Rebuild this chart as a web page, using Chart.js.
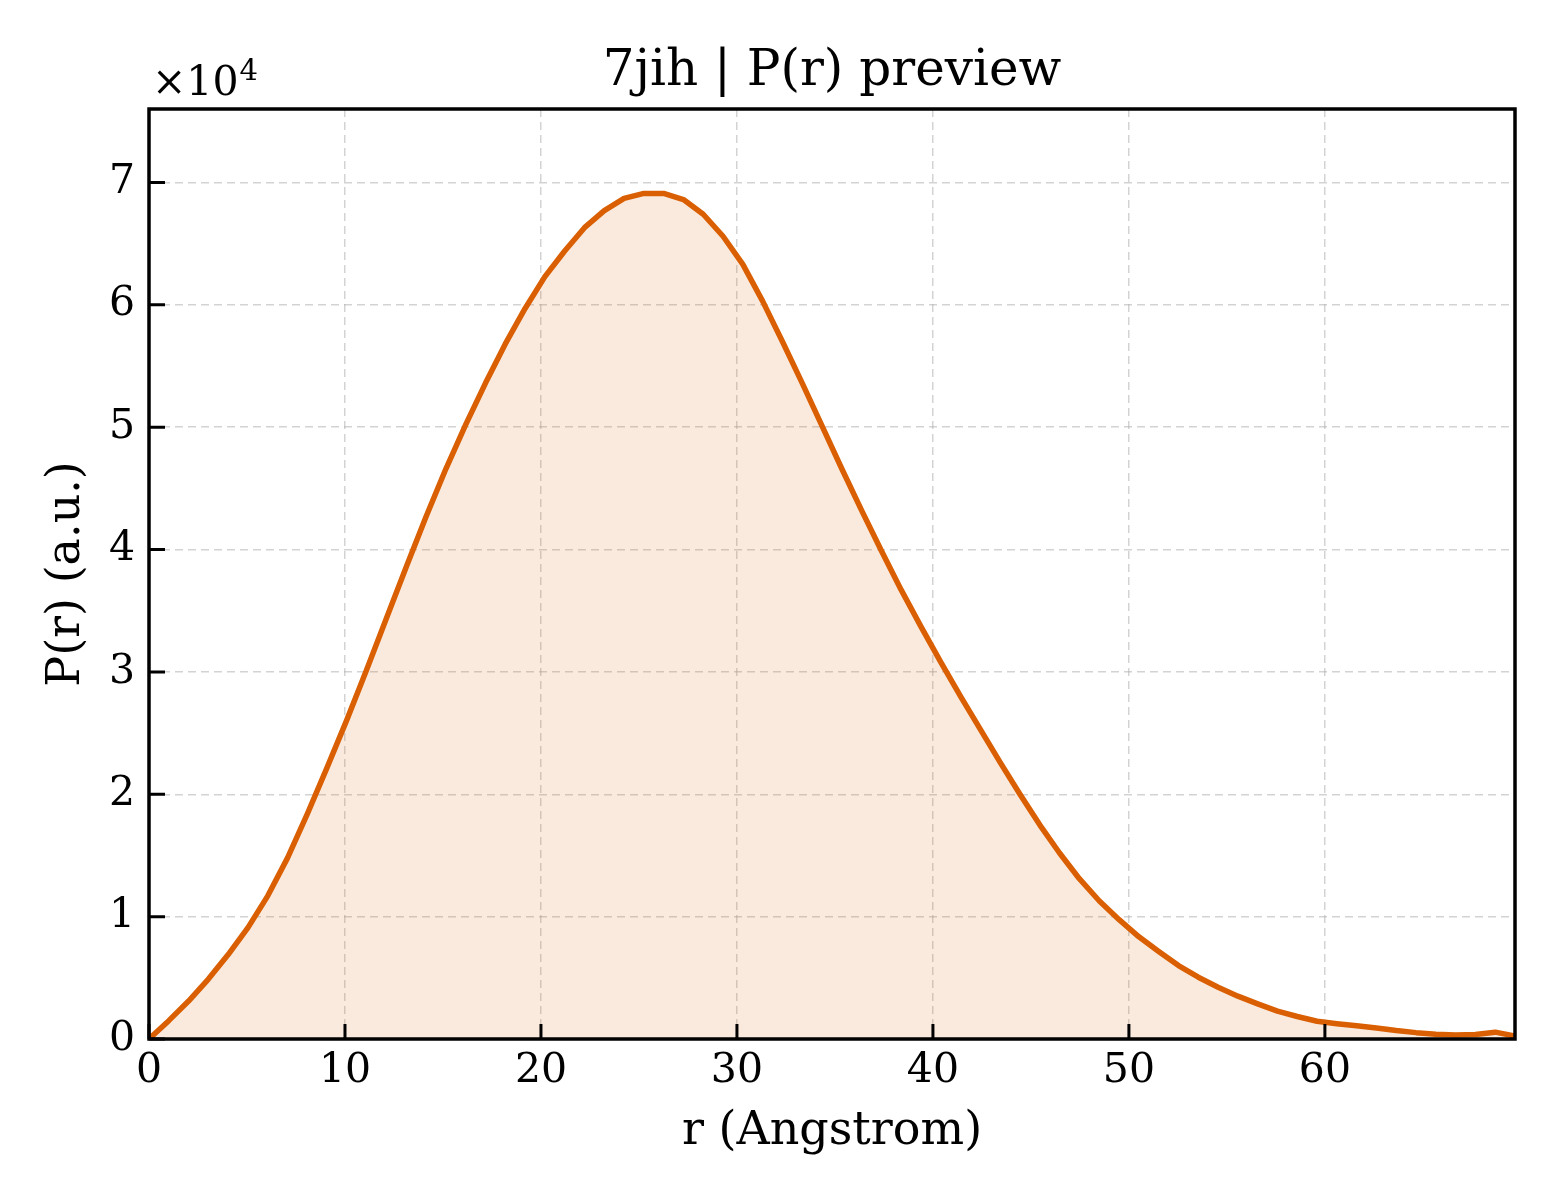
<!DOCTYPE html>
<html>
  <head>
    <title>7jih | P(r) preview</title>
    <script src="https://cdn.jsdelivr.net/npm/chart.js"></script>
    <style>
      html, body { margin: 0; padding: 0; background: #ffffff; }
      #chart-box { width: 1560px; height: 1200px; }
    </style>
  </head>
  <body>
    <div id="chart-box">
      <canvas id="prChart" width="1560" height="1200"></canvas>
    </div>
    <script>
      // r grid (Angstrom) and P(r) values read from the preview
      const rValues = [
        0, 1.01, 2.02, 3.03, 4.04, 5.05, 6.06, 7.07, 8.08, 9.09,
        10.1, 11.11, 12.12, 13.13, 14.14, 15.15, 16.16, 17.17, 18.18, 19.19,
        20.2, 21.21, 22.22, 23.23, 24.24, 25.25, 26.26, 27.27, 28.28, 29.29,
        30.3, 31.31, 32.32, 33.33, 34.34, 35.35, 36.36, 37.37, 38.38, 39.39,
        40.4, 41.41, 42.42, 43.43, 44.44, 45.45, 46.46, 47.47, 48.48, 49.5,
        50.51, 51.52, 52.53, 53.54, 54.55, 55.56, 56.57, 57.58, 58.59, 59.6,
        60.61, 61.62, 62.63, 63.64, 64.65, 65.66, 66.67, 67.68, 68.69, 69.7
      ];
      const prValues = [
        0, 1500, 3100, 4900, 6900, 9100, 11700, 14800, 18400, 22200,
        26100, 30200, 34400, 38600, 42700, 46600, 50200, 53600, 56800, 59700,
        62300, 64400, 66300, 67700, 68700, 69100, 69100, 68600, 67400, 65600,
        63300, 60300, 57000, 53600, 50100, 46600, 43200, 39900, 36700, 33700,
        30800, 28000, 25300, 22600, 20000, 17500, 15200, 13100, 11300, 9750,
        8350, 7150, 6000, 5050, 4230, 3500, 2870, 2280, 1840, 1450,
        1250, 1080, 900, 690, 520, 390, 330, 360, 560, 250
      ];
      const xTickValues = [0, 10, 20, 30, 40, 50, 60];
      const yTickValues = [0, 10000, 20000, 30000, 40000, 50000, 60000, 70000];
      const xMax = 69.7;
      const yMax = 76000;

      const serif = "'DejaVu Serif', 'Liberation Serif', serif";
      const lineColor = "#d95f02";
      const gridColor = "rgba(175, 175, 175, 0.55)";

      // title over the plot, frame, inward ticks and the x10^4 offset label
      const framePlugin = {
        id: "frame",
        afterDraw(chart) {
          const { ctx, chartArea: a, scales } = chart;
          ctx.save();
          ctx.fillStyle = "#000000";
          ctx.font = "50px " + serif;
          ctx.textAlign = "center";
          ctx.textBaseline = "alphabetic";
          ctx.fillText("7jih | P(r) preview", (a.left + a.right) / 2, 85);

          ctx.strokeStyle = "#000000";
          ctx.lineWidth = 3;
          ctx.beginPath();
          xTickValues.forEach((v) => {
            const px = scales.x.getPixelForValue(v);
            ctx.moveTo(px, a.bottom);
            ctx.lineTo(px, a.bottom - 15);
          });
          yTickValues.forEach((v) => {
            const py = scales.y.getPixelForValue(v);
            ctx.moveTo(a.left, py);
            ctx.lineTo(a.left + 16, py);
          });
          ctx.stroke();

          ctx.lineWidth = 3.5;
          ctx.strokeRect(a.left, a.top, a.right - a.left, a.bottom - a.top);

          ctx.textAlign = "left";
          ctx.font = "41px " + serif;
          const base = "\u00d710";
          ctx.fillText(base, a.left + 3, 95);
          const w = ctx.measureText(base).width;
          ctx.font = "29px " + serif;
          ctx.fillText("4", a.left + 4 + w, 80);
          ctx.restore();
        },
      };

      const ctx = document.getElementById("prChart").getContext("2d");
      const chart = new Chart(ctx, {
        type: "line",
        data: {
          datasets: [
            {
              label: "P(r)",
              data: rValues.map((r, i) => ({ x: r, y: prValues[i] })),
              borderColor: lineColor,
              backgroundColor: "rgba(217, 95, 2, 0.13)",
              borderWidth: 5.5,
              fill: "origin",
              tension: 0,
              pointRadius: 0,
              borderJoinStyle: "round",
            },
          ],
        },
        options: {
          responsive: false,
          animation: false,
          devicePixelRatio: 1,
          layout: { padding: { top: 109, right: 45, bottom: 0, left: 0 } },
          plugins: {
            legend: { display: false },
            tooltip: { enabled: false },
            title: { display: false },
          },
          scales: {
            x: {
              type: "linear",
              min: 0,
              max: xMax,
              afterBuildTicks: (scale) => {
                scale.ticks = xTickValues.map((v) => ({ value: v }));
              },
              afterFit: (scale) => {
                scale.height = 161;
              },
              ticks: {
                color: "#000000",
                padding: 8,
                font: { family: serif, size: 41, lineHeight: 1.2 },
                callback: (v) => String(v),
              },
              grid: {
                color: gridColor,
                lineWidth: 1.5,
                drawTicks: false,
              },
              border: { display: false, dash: [8, 5] },
              title: {
                display: true,
                text: "r (Angstrom)",
                color: "#000000",
                font: { family: serif, size: 46, lineHeight: 1.2 },
                padding: { top: 0, bottom: 40 },
              },
            },
            y: {
              type: "linear",
              min: 0,
              max: yMax,
              afterBuildTicks: (scale) => {
                scale.ticks = yTickValues.map((v) => ({ value: v }));
              },
              afterFit: (scale) => {
                scale.width = 149;
              },
              ticks: {
                color: "#000000",
                padding: 14,
                font: { family: serif, size: 41, lineHeight: 1.2 },
                callback: (v) => String(v / 10000),
              },
              grid: {
                color: gridColor,
                lineWidth: 1.5,
                drawTicks: false,
              },
              border: { display: false, dash: [8, 5] },
              title: {
                display: true,
                text: "P(r) (a.u.)",
                color: "#000000",
                font: { family: serif, size: 46, lineHeight: 1.2 },
                padding: { top: 39, bottom: 0 },
              },
            },
          },
        },
        plugins: [framePlugin],
      });
    </script>
  </body>
</html>
